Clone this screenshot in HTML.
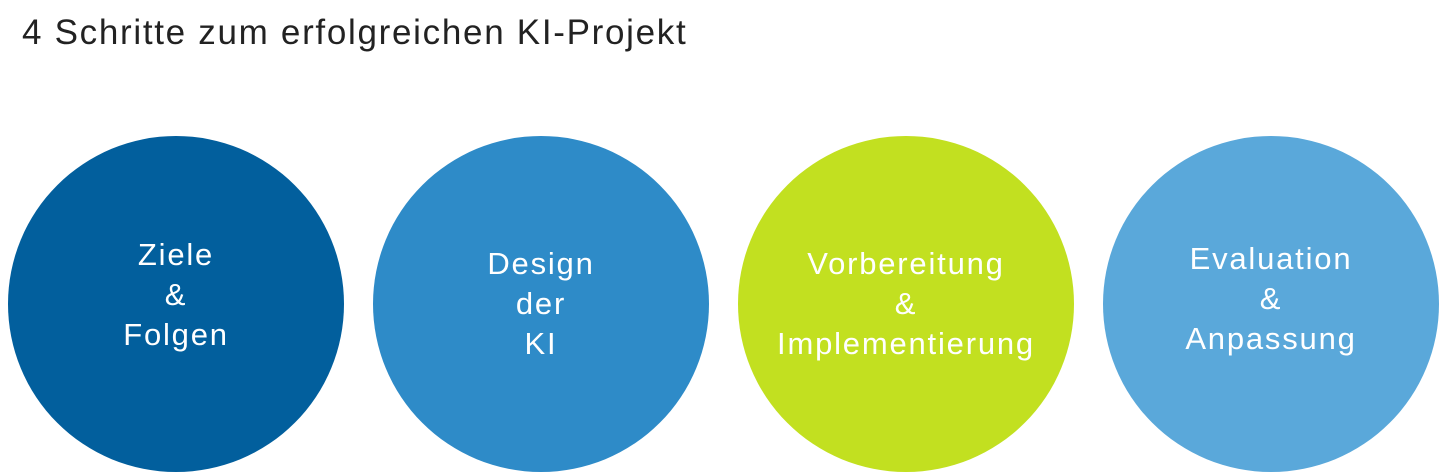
<!DOCTYPE html>
<html><head><meta charset="utf-8"><style>
body{margin:0;width:1440px;height:474px;background:#fff;position:relative;overflow:hidden;font-family:"Liberation Sans",sans-serif}
.t{position:absolute;left:22px;top:13px;font-size:35px;letter-spacing:1.7px;color:#222;white-space:nowrap}
.c{position:absolute;top:136px;width:336px;height:336px;border-radius:50%;display:flex;align-items:center;justify-content:center;text-align:center;color:#fff;font-size:31px;letter-spacing:1.8px;line-height:40px;white-space:nowrap}
</style></head><body>
<div class="t">4 Schritte zum erfolgreichen KI-Projekt</div>
<div class="c" style="left:8px;background:#025f9d"><div style="margin-top:-18px">Ziele<br>&amp;<br>Folgen</div></div>
<div class="c" style="left:373px;background:#2e8bc8"><div>Design<br>der<br>KI</div></div>
<div class="c" style="left:738px;background:#c2e020"><div>Vorbereitung<br>&amp;<br>Implementierung</div></div>
<div class="c" style="left:1103px;background:#5aa8da"><div style="margin-top:-10px">Evaluation<br>&amp;<br>Anpassung</div></div>
</body></html>
